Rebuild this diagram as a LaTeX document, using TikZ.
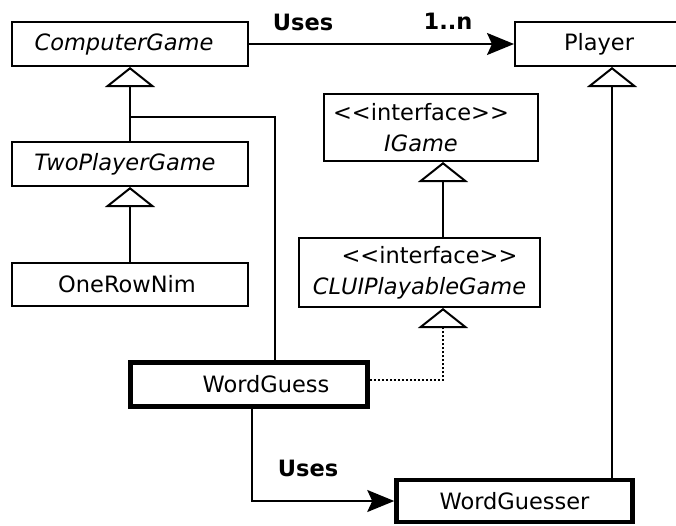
\documentclass[tikz,border=0pt]{standalone}
\usepackage{fontspec}
\setmainfont{DejaVu Sans}
\usetikzlibrary{arrows.meta}
\tikzset{
  box/.style={draw, line width=2pt, inner sep=0pt, fill=white, font=\fontsize{22.5}{31}\selectfont, align=center},
  thickbox/.style={box, line width=4.5pt},
  conn/.style={line width=2pt},
  gen/.style={conn, -{Triangle[open, length=20pt, width=50pt, line width=2pt]}},
  uses/.style={conn, -{Stealth[length=27pt, width=22pt, inset=5pt]}},
  real/.style={conn, dash pattern=on 2pt off 2pt, -{Triangle[open, length=20pt, width=50pt, line width=2pt]}},
  lbl/.style={font=\fontsize{22.5}{26}\selectfont\bfseries, inner sep=0pt}
}
\begin{document}
\begin{tikzpicture}[x=1pt, y=-1pt]
\useasboundingbox (0,0) rectangle (676,525);
\clip (0,0) rectangle (676,525);
\fill[white] (0,0) rectangle (676,525);
% boxes
\node[box, minimum width=236pt, minimum height=44pt] (cg) at (130,44) {\itshape ComputerGame\hspace*{12pt}};
\node[box, minimum width=236pt, minimum height=44pt] (tpg) at (130,164) {\itshape TwoPlayerGame\hspace*{10pt}};
\node[box, minimum width=236pt, minimum height=43pt] (orn) at (130,284.5) {OneRowNim\hspace*{6pt}};
\node[box, minimum width=168pt, minimum height=44pt] (player) at (599,44) {Player};
\node[box, minimum width=214pt, minimum height=67pt] (igame) at (431,127.5) {<{}<interface>{}>\hspace*{20pt}\\\itshape IGame\hspace*{20pt}};
\node[box, minimum width=241pt, minimum height=69pt] (clui) at (419.5,272.5) {\hspace*{20pt}<{}<interface>{}>\\\itshape CLUIPlayableGame};
\node[thickbox, minimum width=237pt, minimum height=44pt] (wg) at (249,384.5) {\hspace*{34pt}WordGuess};
\node[thickbox, minimum width=236pt, minimum height=42pt] (wgr) at (514.5,501) {WordGuesser};
% helper coordinates
\coordinate (br) at (130,117);
\coordinate (wgx) at (275,0);
\coordinate (ix) at (443,0);
\coordinate (rz) at (443,380);
\coordinate (px) at (612,0);
\coordinate (ux) at (252,0);
% connectors
\draw[uses] (cg.east) -- (player.west);
\node[lbl] (uses1) at (303,22) {Uses};
\node[lbl] (mult) at (448,21) {1..n};
\draw[gen] (tpg.north) -- (cg.south);
\draw[conn] (wg.north -| wgx) |- (br);
\draw[gen] (orn.north) -- (tpg.south);
\draw[gen] (clui.north -| ix) -- (igame.south -| ix);
\draw[real] (wg.east |- rz) -| (clui.south -| rz);
\draw[gen] (wgr.north -| px) -- (player.south -| px);
\draw[uses] (wg.south -| ux) |- (wgr.west);
\node[lbl] (uses2) at (308,468) {Uses};
\end{tikzpicture}
\end{document}
